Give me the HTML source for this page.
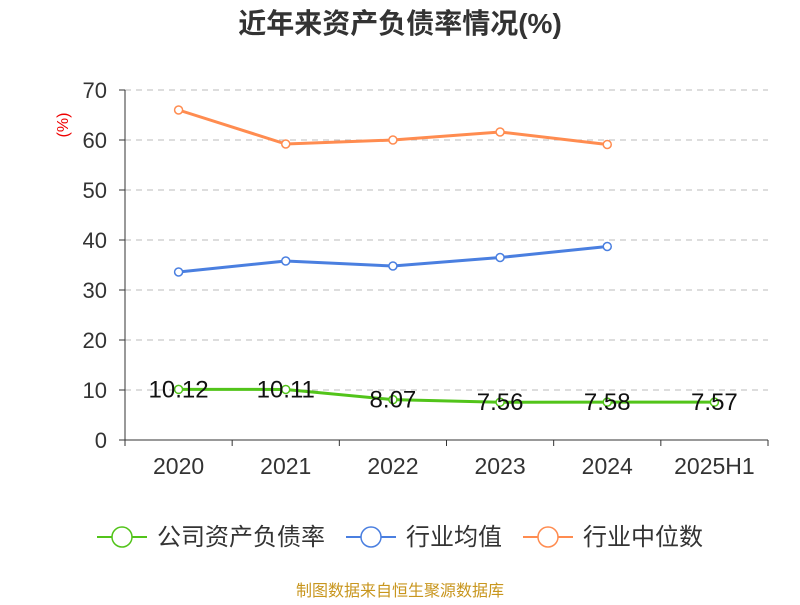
<!DOCTYPE html>
<html><head><meta charset="utf-8"><style>
body{margin:0;background:#fff;font-family:"Liberation Sans","Noto Sans CJK SC",sans-serif}
</style></head><body>
<svg width="800" height="600" xmlns="http://www.w3.org/2000/svg" font-family="Liberation Sans, Noto Sans CJK SC, sans-serif">
<text x="400" y="33" text-anchor="middle" font-size="28" font-weight="bold" fill="#333">近年来资产负债率情况(%)</text>
<text transform="translate(68,125) rotate(-90)" text-anchor="middle" font-size="16" fill="#e00">(%)</text>
<g id="grid"></g><g id="axes"></g><g id="series"></g>
<g font-size="24" fill="#333">
<g><line x1="97" y1="537" x2="147" y2="537" stroke="#52c41a" stroke-width="2"/><circle cx="122" cy="537" r="10" fill="#fff" stroke="#52c41a" stroke-width="1.5"/><text x="157" y="545">公司资产负债率</text></g>
<g><line x1="346" y1="537" x2="396" y2="537" stroke="#4a7fe0" stroke-width="2"/><circle cx="371" cy="537" r="10" fill="#fff" stroke="#4a7fe0" stroke-width="1.5"/><text x="406" y="545">行业均值</text></g>
<g><line x1="523" y1="537" x2="573" y2="537" stroke="#ff8c50" stroke-width="2"/><circle cx="548" cy="537" r="10" fill="#fff" stroke="#ff8c50" stroke-width="1.5"/><text x="583" y="545">行业中位数</text></g>
</g>
<text x="400" y="596" text-anchor="middle" font-size="16" fill="#c8961e">制图数据来自恒生聚源数据库</text>
</svg>
<script>
const categories=["2020","2021","2022","2023","2024","2025H1"];
const companyValues=[10.12,10.11,8.07,7.56,7.58,7.57];
const industryAvg=[33.6,35.8,34.8,36.5,38.7];
const industryMedian=[66.0,59.2,60.0,61.6,59.1];
const yTicks=[0,10,20,30,40,50,60,70];
const NS="http://www.w3.org/2000/svg";
const x0=125,x1=768,yb=440,yt=90,ymax=70;
const band=(x1-x0)/categories.length;
const xs=i=>x0+band*(i+0.5);
const ys=v=>yb-(v/ymax)*(yb-yt);
function mk(tag,attrs,parent){const e=document.createElementNS(NS,tag);for(const k in attrs)e.setAttribute(k,attrs[k]);parent.appendChild(e);return e;}
const grid=document.getElementById('grid'),axes=document.getElementById('axes'),ser=document.getElementById('series');
yTicks.forEach(t=>{const y=ys(t);
if(t>0){const g=mk('line',{x1:x0,x2:x1,y1:y,y2:y,stroke:'#bbb','stroke-dasharray':'6,5'},grid);}
const tk=mk('line',{x1:x0-6,x2:x0,y1:y,y2:y,stroke:'#333'},axes);
const tx=mk('text',{x:x0-18,y:y+8,'text-anchor':'end','font-size':22,fill:'#333'},axes);tx.textContent=t;});
const ya=mk('line',{x1:x0,x2:x0,y1:yt,y2:yb,stroke:'#333'},axes);
const xa=mk('line',{x1:x0,x2:x1,y1:yb,y2:yb,stroke:'#333'},axes);
for(let i=0;i<=categories.length;i++){const x=x0+band*i;const t=mk('line',{x1:x,x2:x,y1:yb,y2:yb+6,stroke:'#333'},axes);}
categories.forEach((c,i)=>{const t=mk('text',{x:xs(i),y:474,'text-anchor':'middle','font-size':23,fill:'#333'},axes);t.textContent=c;});
function series(vals,color,name,labels){
const p=mk('polyline',{points:vals.map((v,i)=>xs(i)+','+ys(v)).join(' '),fill:'none',stroke:color,'stroke-width':3},ser);

vals.forEach((v,i)=>{const c=mk('circle',{cx:xs(i),cy:ys(v),r:4,fill:'#fff',stroke:color,'stroke-width':1.5},ser);
if(labels){const t=mk('text',{x:xs(i),y:ys(v)+8,'text-anchor':'middle','font-size':24,fill:'#111'},ser);t.textContent=v.toFixed(2);}});}
series(industryMedian,'#ff8c50','industry-median',false);
series(industryAvg,'#4a7fe0','industry-avg',false);
series(companyValues,'#52c41a','company',true);
</script>
</body></html>
